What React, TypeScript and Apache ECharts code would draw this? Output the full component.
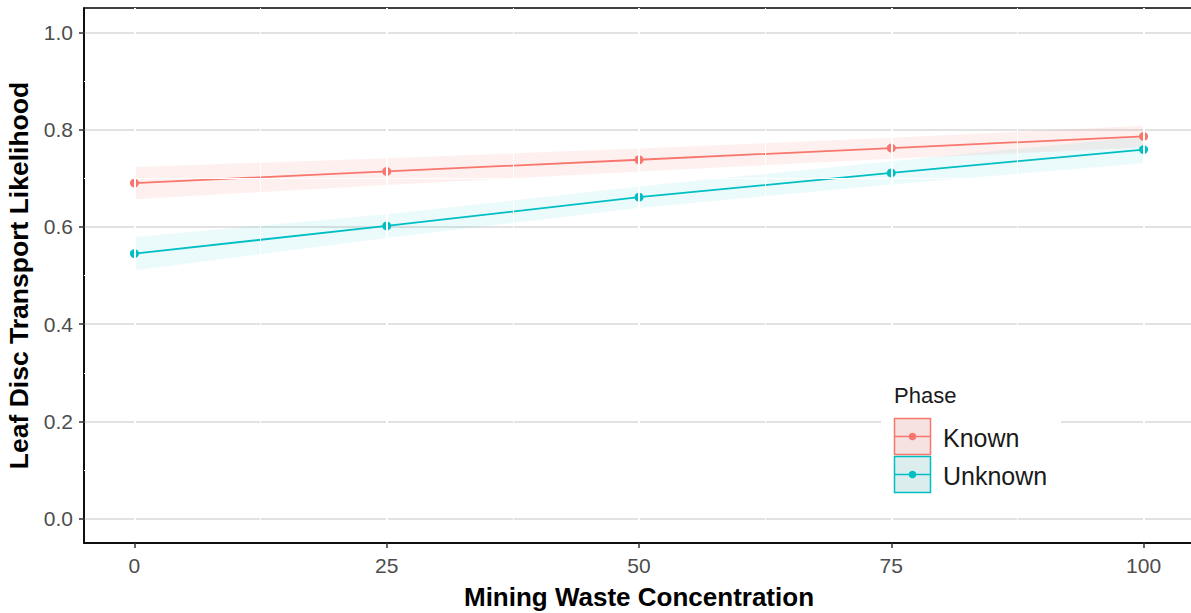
import React, { useEffect, useRef } from "react";
import * as echarts from "echarts";

const xValues = [0, 25, 50, 75, 100];
const knownMean = [0.69, 0.714, 0.738, 0.762, 0.786];
const knownLower = [0.657, 0.686, 0.714, 0.74, 0.763];
const knownUpper = [0.723, 0.741, 0.761, 0.783, 0.808];
const unknownMean = [0.545, 0.602, 0.661, 0.711, 0.759];
const unknownLower = [0.511, 0.577, 0.639, 0.687, 0.731];
const unknownUpper = [0.579, 0.626, 0.683, 0.735, 0.786];

const xTicks = [0, 25, 50, 75, 100];
const xMinor = [12.5, 37.5, 62.5, 87.5];
const yTicks = [0, 0.2, 0.4, 0.6, 0.8, 1.0];
const yMinor = [0.1, 0.3, 0.5, 0.7, 0.9];

const RED = "#F8766D";
const TEAL = "#00BFC4";
const FONT = "'Liberation Sans', Arial, sans-serif";

function ribbonSeries(lower: number[], upper: number[], fill: string) {
  const data = xValues.map((x, i) => [x, lower[i], upper[i]]);
  return {
    type: "custom",
    silent: true,
    z: 2,
    data,
    encode: { x: 0, y: [1, 2] },
    renderItem: (params: any, api: any) => {
      if (params.dataIndex !== 0) return null;
      const top = data.map((d) => api.coord([d[0], d[2]]));
      const bottom = data.map((d) => api.coord([d[0], d[1]])).reverse();
      return {
        type: "polygon",
        shape: { points: top.concat(bottom) },
        style: { fill, stroke: "none" },
      };
    },
  };
}

export default function App() {
  const ref = useRef<HTMLDivElement>(null);
  useEffect(() => {
    if (!ref.current) return;
    const chart = echarts.init(ref.current, undefined, { renderer: "svg" });

    const pairs = (xs: number[], ys: number[]) => xs.map((x, i) => [x, ys[i]]);

    const gridMarks: any[] = [];
    xTicks.forEach((x) =>
      gridMarks.push([
        { coord: [x, -0.045], lineStyle: { color: "#ffffff", width: 2, type: "solid" } },
        { coord: [x, 1.05] },
      ])
    );
    xMinor.forEach((x) =>
      gridMarks.push([
        { coord: [x, -0.045], lineStyle: { color: "#ffffff", width: 1, type: "solid" } },
        { coord: [x, 1.05] },
      ])
    );
    yMinor.forEach((y) =>
      gridMarks.push([
        { coord: [-5, y], lineStyle: { color: "#ffffff", width: 1, type: "solid" } },
        { coord: [105, y] },
      ])
    );

    const legendX = 894.5;
    const legendItems = [
      { name: "Known", color: RED, fill: "rgb(246,226,225)", y: 418.5 },
      { name: "Unknown", color: TEAL, fill: "rgb(220,237,237)", y: 456.5 },
    ];
    const legendGraphics: any[] = [
      { type: "rect", shape: { x: 881, y: 378, width: 180, height: 122 }, style: { fill: "#ffffff" }, z: 10 },
      {
        type: "text",
        x: 894,
        y: 395.5,
        style: { text: "Phase", font: `22px ${FONT}`, fill: "#1a1a1a", verticalAlign: "middle", align: "left" },
        z: 11,
      },
    ];
    legendItems.forEach((it) => {
      legendGraphics.push(
        {
          type: "rect",
          shape: { x: legendX, y: it.y, width: 36, height: 36 },
          style: { fill: it.fill, stroke: it.color, lineWidth: 1.5 },
          z: 11,
        },
        {
          type: "line",
          shape: { x1: legendX, y1: it.y + 18, x2: legendX + 36, y2: it.y + 18 },
          style: { stroke: it.color, lineWidth: 1.5 },
          z: 12,
        },
        {
          type: "circle",
          shape: { cx: legendX + 18, cy: it.y + 18, r: 3.8 },
          style: { fill: it.color },
          z: 12,
        },
        {
          type: "text",
          x: 943,
          y: it.y + 19,
          style: { text: it.name, font: `25px ${FONT}`, fill: "#1a1a1a", verticalAlign: "middle", align: "left" },
          z: 12,
        }
      );
    });

    chart.setOption({
      animation: false,
      backgroundColor: "#ffffff",
      grid: {
        left: 84,
        top: 8,
        width: 1110,
        height: 535,
        show: true,
        borderColor: "#000000",
        borderWidth: 1.5,
        backgroundColor: "#ffffff",
        containLabel: false,
        outerBoundsMode: "none",
      },
      xAxis: {
        type: "value",
        min: -5,
        max: 105,
        name: "Mining Waste Concentration",
        nameLocation: "middle",
        nameGap: 41,
        nameTextStyle: { fontFamily: FONT, fontWeight: "bold", fontSize: 26, color: "#000000" },
        axisLine: { show: true, onZero: false, lineStyle: { color: "#000000", width: 1.5 } },
        axisTick: { show: true, length: 5, customValues: xTicks, lineStyle: { color: "#333333", width: 1.5 } },
        axisLabel: {
          customValues: xTicks,
          fontFamily: FONT,
          fontSize: 21,
          color: "#4d4d4d",
          margin: 12,
        },
        splitLine: { show: false },
      },
      yAxis: {
        type: "value",
        min: -0.05,
        max: 1.05,
        name: "Leaf Disc Transport Likelihood",
        nameLocation: "middle",
        nameGap: 44,
        nameTextStyle: { fontFamily: FONT, fontWeight: "bold", fontSize: 26.5, color: "#000000" },
        axisLine: { show: true, onZero: false, lineStyle: { color: "#000000", width: 1.5 } },
        axisTick: { show: true, length: 5, customValues: yTicks, lineStyle: { color: "#333333", width: 1.5 } },
        axisLabel: {
          customValues: yTicks,
          fontFamily: FONT,
          fontSize: 21,
          color: "#4d4d4d",
          margin: 11,
          formatter: (v: number) => v.toFixed(1),
        },
        splitLine: { show: true, lineStyle: { color: "#d9d9d9", width: 1.5 } },
      },
      series: [
        {
          type: "line",
          name: "grid",
          silent: true,
          z: 1,
          data: pairs(xValues, knownMean),
          showSymbol: false,
          lineStyle: { opacity: 0 },
          markLine: { silent: true, symbol: ["none", "none"], label: { show: false }, data: gridMarks, animation: false },
        },
        ribbonSeries(knownLower, knownUpper, "rgba(248,118,109,0.11)"),
        ribbonSeries(unknownLower, unknownUpper, "rgba(0,191,196,0.08)"),
        {
          type: "line",
          name: "Known",
          z: 3,
          data: pairs(xValues, knownMean),
          symbol: "circle",
          symbolSize: 9,
          itemStyle: { color: RED },
          lineStyle: { color: RED, width: 1.8 },
        },
        {
          type: "line",
          name: "Unknown",
          z: 3,
          data: pairs(xValues, unknownMean),
          symbol: "circle",
          symbolSize: 9,
          itemStyle: { color: TEAL },
          lineStyle: { color: TEAL, width: 1.8 },
        },
      ],
      graphic: legendGraphics,
    });
    return () => chart.dispose();
  }, []);
  return (
    <div
      ref={ref}
      style={{ position: "absolute", left: 0, top: 0, width: 1191, height: 613, background: "#fff" }}
    />
  );
}
